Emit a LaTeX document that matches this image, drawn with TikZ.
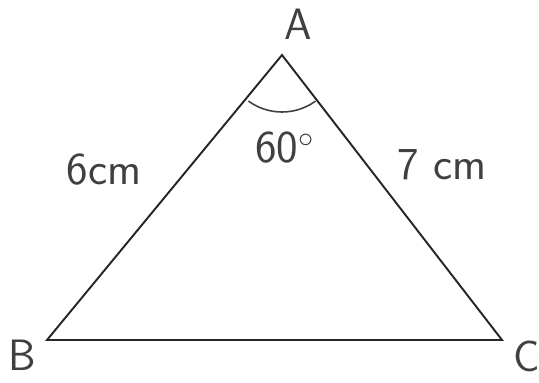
\documentclass[tikz,border=0pt]{standalone}
\usetikzlibrary{positioning, calc}

\begin{document}
\begin{tikzpicture}[
    x=0.02cm, y=-0.02cm,
    side/.style={line width=1.1pt, draw=black!85},
    vertex/.style={inner sep=0pt, text=black!75, font=\sffamily\fontsize{25}{29}\selectfont},
    measure/.style={inner sep=0pt, text=black!75, font=\sffamily\fontsize{26}{30}\selectfont}
]
\useasboundingbox (0,0) rectangle (539,383);

% Corners
\coordinate (A) at (282,55);
\coordinate (B) at (47,340);
\coordinate (C) at (502,340);

% Triangle
\draw[side] (A) -- (B) -- (C) -- cycle;

% Angle mark at A
\draw[line width=0.9pt, draw=black!75] ($(A)+(126:57)$) arc[start angle=126, end angle=54, radius=57];

% Labels
\node[vertex] (lblA) at (298,24) {A};
\node[vertex] (lblB) at (22,355) {B};
\node[vertex] (lblC) at (527,356) {C};
\node[measure] (ab) at (104,170) {6cm};
\node[measure] (ac) at (442,165) {7 cm};
\node[measure] (ang) at (285,148) {60$^\circ$};

\end{tikzpicture}
\end{document}
